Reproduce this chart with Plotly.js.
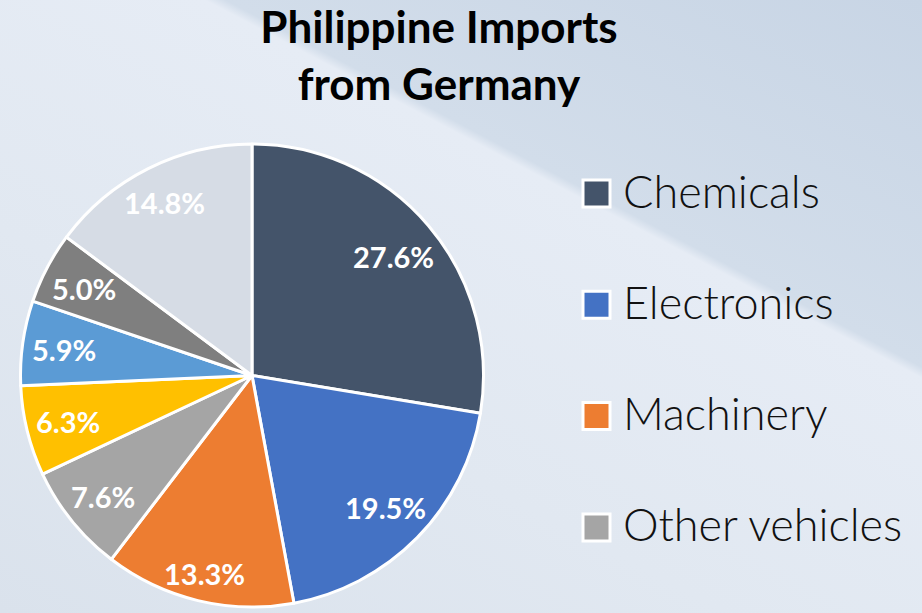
<!DOCTYPE html>
<html>
<head>
<meta charset="utf-8">
<script src="https://cdn.plot.ly/plotly-3.0.1.min.js"></script>
<style>
  html, body { margin: 0; padding: 0; }
  body {
    width: 922px; height: 613px; overflow: hidden;
    background: linear-gradient(27.8deg, #DAE2EC 0%, #E1E8F1 35%, #E6ECF5 65.6%, #D2DDEA 66.6%, #C8D5E5 100%);
  }
  #chart { width: 922px; height: 613px; }
</style>
</head>
<body>
<div id="chart"></div>
<script>
// ---- data ----
const categories = ['Chemicals', 'Electronics', 'Machinery', 'Other vehicles', 'Category 5', 'Category 6', 'Category 7', 'Category 8'];
const shares = [27.6, 19.5, 13.3, 7.6, 6.3, 5.9, 5.0, 14.8];
const sliceColors = ['#44546A', '#4472C4', '#ED7D31', '#A5A5A5', '#FFC000', '#5B9BD5', '#7F7F7F', '#D6DCE5'];
const legendCategories = ['Chemicals', 'Electronics', 'Machinery', 'Other vehicles'];
const chartTitle = 'Philippine Imports<br>from Germany';

// ---- layout helpers ----
const W = 922, H = 613;
const px = x => x / W;
const py = y => 1 - y / H;

const cx = 252, cy = 375.5, r = 231.5;

const trace = {
  type: 'pie',
  labels: categories,
  values: shares,
  sort: false,
  direction: 'clockwise',
  rotation: 0,
  marker: { colors: sliceColors, line: { color: '#FFFFFF', width: 3 } },
  textinfo: 'none',
  showlegend: false,
  hoverinfo: 'label+percent',
  domain: { x: [px(cx - r), px(cx + r)], y: [py(cy + r), py(cy - r)] }
};

const shapes = [];
const annotations = [];

// data labels: placed inside each slice, near its outer edge (derived from the values)
const total = shares.reduce((a, b) => a + b, 0);
let cum = 0;
shares.forEach((v, i) => {
  const mid = (cum + v / 2) / total * 2 * Math.PI;
  cum += v;
  const label = v.toFixed(1) + '%';
  const hw = label.length * 8, hh = 12;
  const s = Math.sin(mid), c = Math.cos(mid);
  const rho = r - 8 - (hw * Math.abs(s) + hh * Math.abs(c));
  annotations.push({
    xref: 'paper', yref: 'paper',
    x: px(cx + rho * s), y: py(cy - rho * c + 1),
    xanchor: 'center', yanchor: 'middle', showarrow: false,
    text: label,
    font: { family: 'Lato', size: 29, color: '#FFFFFF', weight: 'bold' }
  });
});

const legendTop = 193.5, legendStep = 111.3;
legendCategories.forEach((name, i) => {
  const yc = legendTop + i * legendStep;
  const color = sliceColors[categories.indexOf(name)];
  shapes.push({
    type: 'rect', xref: 'paper', yref: 'paper',
    x0: px(583), x1: px(610), y0: py(yc + 13.5), y1: py(yc - 13.5),
    fillcolor: color, line: { color: '#FFFFFF', width: 3 }
  });
  annotations.push({
    xref: 'paper', yref: 'paper', x: px(621), y: py(yc - 3),
    xanchor: 'left', yanchor: 'middle', showarrow: false,
    text: name,
    font: { family: 'Lato', size: 45, color: '#111111', weight: 300 }
  });
});

const layout = {
  width: W, height: H,
  margin: { l: 0, r: 0, t: 0, b: 0 },
  paper_bgcolor: 'rgba(0,0,0,0)',
  plot_bgcolor: 'rgba(0,0,0,0)',
  title: {
    text: chartTitle,
    x: px(439), xanchor: 'center', xref: 'paper',
    y: 1 - 43 / H, yanchor: 'top', yref: 'container',
    font: { family: 'Lato', size: 44, color: '#000000', weight: 'bold' }
  },
  shapes: shapes,
  annotations: annotations
};

Plotly.newPlot('chart', [trace], layout, { displayModeBar: false, staticPlot: true });
</script>
</body>
</html>
